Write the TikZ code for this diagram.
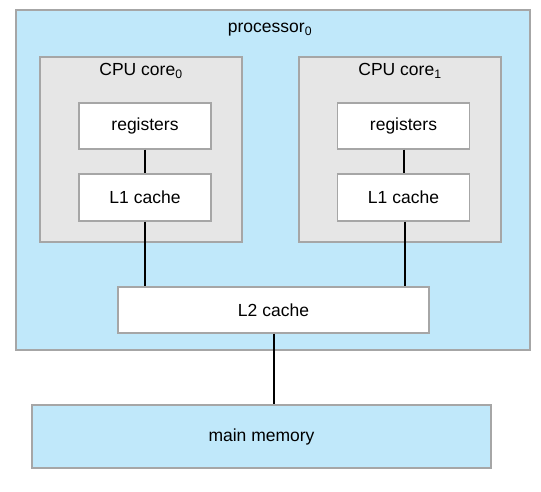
\documentclass[tikz,border=0pt]{standalone}
\usepackage{fontspec}
\setmainfont{Liberation Sans}
\definecolor{procblue}{HTML}{C0E8FA}
\definecolor{coregrey}{HTML}{E6E6E6}
\definecolor{edgegrey}{HTML}{A6A6A6}
\begin{document}
\begin{tikzpicture}[x=1pt,y=-1pt,
  box/.style={draw=edgegrey,line width=1.2pt,inner sep=0pt,font=\fontsize{17.5}{20}\selectfont},
  bluebox/.style={box,fill=procblue},
  greybox/.style={box,fill=coregrey},
  whitebox/.style={box,fill=white},
  lbl/.style={inner sep=0pt,font=\fontsize{17.5}{20}\selectfont},
  link/.style={line width=2pt,black}]
\useasboundingbox (0,0) rectangle (541,491);
\node[bluebox,minimum width=514pt,minimum height=340pt] (proc) at (273,180) {};
\node[lbl] (proclbl) at (270,30) {processor\textsubscript{0}};
\node[greybox,minimum width=202pt,minimum height=185pt] (core0) at (141,149.5) {};
\node[greybox,minimum width=202pt,minimum height=185pt] (core1) at (400,149.5) {};
\node[lbl] (core0lbl) at (141,71) {CPU core\textsubscript{0}};
\node[lbl] (core1lbl) at (400,71) {CPU core\textsubscript{1}};
\node[whitebox,minimum width=132pt,minimum height=46pt] (reg0) at (145,126) {registers};
\node[whitebox,minimum width=132pt,minimum height=47pt] (l10) at (145,197.5) {L1 cache};
\node[whitebox,minimum width=132pt,minimum height=46pt] (reg1) at (403.5,126) {registers};
\node[whitebox,minimum width=132pt,minimum height=47pt] (l11) at (403.5,197.5) {L1 cache};
\node[whitebox,minimum width=311pt,minimum height=46pt] (l2) at (273.5,310) {L2 cache};
\node[bluebox,minimum width=459pt,minimum height=63pt] (mem) at (261.5,436.5) {main memory};
\draw[link] (reg0.south) -- (l10.north);
\draw[link] (reg1.south) -- (l11.north);
\draw[link] (l10.south) -- (l10.south |- l2.north);
\draw[link] ([xshift=1.5pt]l11.south) -- ([xshift=1.5pt]l11.south |- l2.north);
\draw[link] (l2.south) -- (l2.south |- mem.north);
\end{tikzpicture}
\end{document}
